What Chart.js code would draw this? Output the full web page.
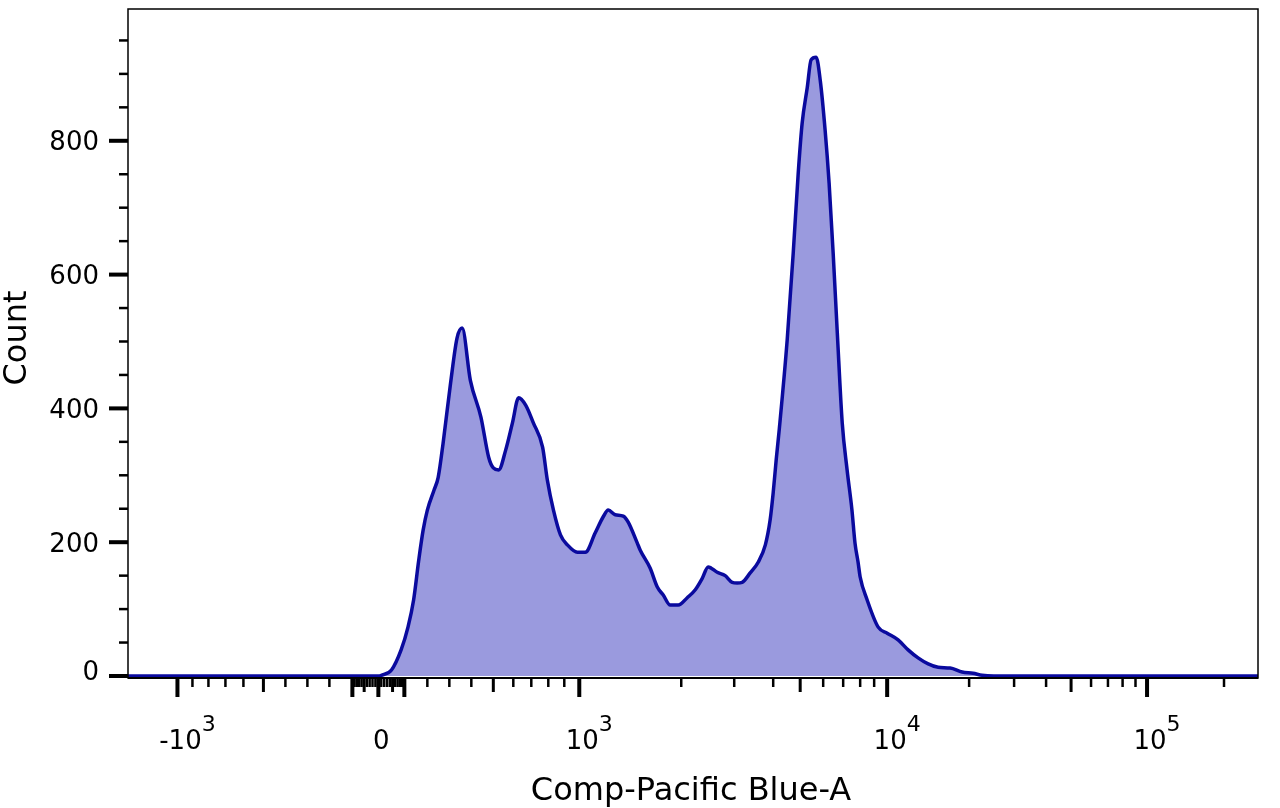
<!DOCTYPE html>
<html>
<head>
<meta charset="utf-8">
<script src="https://cdn.jsdelivr.net/npm/chart.js@4/dist/chart.umd.min.js"></script>
<style>
  html, body { margin: 0; padding: 0; background: #ffffff; }
  #wrap { width: 1280px; height: 808px; position: relative; }
</style>
</head>
<body>
<div id="wrap"><canvas id="chart" width="1280" height="808"></canvas></div>
<script>
// ---------------- data ----------------
const FLUORESCENCE = [
  -1400, -1000, -500, -100, 0, 10, 46, 85, 113, 135, 157, 178, 200, 227, 245, 268, 305, 332, 355,
  395, 441, 477, 500, 525, 560, 595, 628, 667, 712, 765, 794, 831, 875, 920, 987,
  1042, 1115, 1177, 1218, 1277, 1349, 1395, 1483, 1514, 1620, 1700, 1770, 1856, 1960,
  2094, 2227, 2349, 2458, 2634, 2800, 2954, 3067, 3180, 3375, 3580, 3775, 3910, 4000,
  4100, 4204, 4490, 4720, 4920, 5080, 5290, 5450, 5675, 5860, 6090, 6280, 6480, 6690,
  6950, 7220, 7500, 7680, 7870, 8000, 8480, 9300, 10000, 10970, 11940, 12990, 14150,
  15390, 17030, 18850, 20730, 22480, 25000, 262144
];
const COUNTS = [
  0, 0, 0, 0, 0, 1, 9, 39, 73, 114, 173, 218, 248, 278, 297, 348, 438, 505, 520,
  442, 387, 327, 311, 308, 338, 378, 416, 405, 378, 342, 293, 248, 211, 196, 185,
  185, 214, 238, 248, 241, 239, 230, 199, 188, 161, 133, 121, 106, 106,
  117, 129, 146, 163, 155, 150, 140, 139, 140, 154, 170, 196, 233, 274,
  323, 368, 502, 632, 752, 827, 880, 921, 925, 891, 816, 737, 632, 513,
  378, 308, 248, 199, 170, 148, 114, 73, 64, 54, 39, 27, 18,
  13, 12, 6, 4, 1, 0, 0
];

// axis range and tick definitions
const X_MIN = -1400, X_MAX = 262144;
const Y_MIN = -3, Y_MAX = 997;
const Y_TICK_VALUES = [0, 200, 400, 600, 800];
const Y_TICK_LABELS = ['0', '200', '400', '600', '800'];
const Y_MINOR_TICKS = [50, 100, 150, 250, 300, 350, 450, 500, 550, 650, 700, 750, 850, 900, 950];

const X_LABEL_VALUES = [-1000, 0, 1000, 10000, 100000];
const X_LABEL_BASES = ['-10', '0', '10', '10', '10'];
const X_LABEL_EXPONENTS = ['3', '', '3', '4', '5'];
const X_MAJOR_TICKS = [-1000, -100, 0, 100, 1000, 10000, 100000];
const X_MEDIUM_TICKS = [-500, -50, 50, 500, 5000, 50000];
const X_MINOR_TICKS = [
  -900, -800, -700, -600, -400, -300, -200,
  -90, -80, -70, -60, -40, -30, -20, -10,
  10, 20, 30, 40, 60, 70, 80, 90,
  200, 300, 400, 600, 700, 800, 900,
  2000, 3000, 4000, 6000, 7000, 8000, 9000,
  20000, 30000, 40000, 60000, 70000, 80000, 90000,
  200000
];

// biexponential display transform (value -> display units), symmetric around 0
const X_SCALE_KNOT_VALUES  = [0, 100, 200, 300, 400, 500, 600, 700, 800, 900, 1000, 2000, 3000, 4000, 5000, 6000, 7000, 8000, 9000, 10000, 20000, 30000, 40000, 50000, 100000, 200000, 262144];
const X_SCALE_KNOT_DISPLAY = [0, 26, 49, 71, 93, 115, 135, 153, 170, 186, 201, 303, 356, 395, 422, 445, 465, 482, 496, 509, 591, 636, 668, 693, 769, 846, 880];

const X_TITLE = 'Comp-Pacific Blue-A';
const Y_TITLE = 'Count';

// ---------------- custom biexponential scale ----------------
function biexDisplay(v) {
  const s = v < 0 ? -1 : 1;
  const a = Math.abs(v);
  const u = Math.asinh(a / 100);
  const K = X_SCALE_KNOT_VALUES, D = X_SCALE_KNOT_DISPLAY;
  for (let i = 1; i < K.length; i++) {
    if (a <= K[i] || i === K.length - 1) {
      const u0 = Math.asinh(K[i - 1] / 100), u1 = Math.asinh(K[i] / 100);
      return s * (D[i - 1] + (D[i] - D[i - 1]) * (u - u0) / (u1 - u0));
    }
  }
  return 0;
}

class BiexScale extends Chart.LinearScale {
  determineDataLimits() {
    this.min = this.options.min;
    this.max = this.options.max;
  }
  buildTicks() {
    this.start = this.min;
    this.end = this.max;
    return X_MAJOR_TICKS.map(v => ({ value: v }));
  }
  getPixelForValue(value) {
    const a = biexDisplay(this.min), b = biexDisplay(this.max);
    return this.getPixelForDecimal((biexDisplay(value) - a) / (b - a));
  }
  getValueForPixel(pixel) {
    let lo = this.min, hi = this.max;
    for (let i = 0; i < 80; i++) {
      const mid = (lo + hi) / 2;
      if (this.getPixelForValue(mid) < pixel) lo = mid; else hi = mid;
    }
    return (lo + hi) / 2;
  }
}
BiexScale.id = 'biex';
BiexScale.defaults = Chart.LinearScale.defaults;
Chart.register(BiexScale);

// ---------------- axis painter (ticks, labels, frame) ----------------
const FONT = '"DejaVu Sans", "Liberation Sans", sans-serif';
const axisPainter = {
  id: 'axisPainter',
  afterDatasetsDraw(chart) {
    const { ctx, chartArea: a, scales } = chart;
    const xs = scales.x, ys = scales.y;
    ctx.save();
    ctx.strokeStyle = '#000';
    ctx.fillStyle = '#000';
    ctx.lineCap = 'butt';
    // frame
    ctx.lineWidth = 1.5;
    ctx.strokeRect(a.left, a.top, a.right - a.left, a.bottom - a.top);
    ctx.lineWidth = 2;
    ctx.beginPath(); ctx.moveTo(a.left, a.bottom); ctx.lineTo(a.right, a.bottom); ctx.stroke();

    const line = (x1, y1, x2, y2, w) => {
      ctx.lineWidth = w; ctx.beginPath(); ctx.moveTo(x1, y1); ctx.lineTo(x2, y2); ctx.stroke();
    };
    // y ticks
    Y_TICK_VALUES.forEach(v => { const p = ys.getPixelForValue(v); line(a.left - 19, p, a.left, p, 4); });
    Y_MINOR_TICKS.forEach(v => { const p = ys.getPixelForValue(v); line(a.left - 9, p, a.left, p, 2.5); });
    // x ticks
    X_MAJOR_TICKS.forEach(v => { const p = xs.getPixelForValue(v); line(p, a.bottom, p, a.bottom + 19, 4); });
    X_MEDIUM_TICKS.forEach(v => { const p = xs.getPixelForValue(v); line(p, a.bottom, p, a.bottom + 14, 3); });
    X_MINOR_TICKS.forEach(v => { const p = xs.getPixelForValue(v); line(p, a.bottom, p, a.bottom + 9, 2.5); });

    // y tick labels (kept above the x axis line)
    ctx.font = '26px ' + FONT;
    ctx.textAlign = 'right';
    ctx.textBaseline = 'alphabetic';
    Y_TICK_VALUES.forEach((v, i) => {
      const baseline = Math.min(ys.getPixelForValue(v) + 9.5, a.bottom + 2);
      ctx.fillText(Y_TICK_LABELS[i], a.left - 29, baseline);
    });

    // x tick labels with superscript exponents
    X_LABEL_VALUES.forEach((v, i) => {
      const p = xs.getPixelForValue(v) + 3;
      ctx.font = '26px ' + FONT;
      ctx.textAlign = 'center';
      const base = X_LABEL_BASES[i];
      ctx.fillText(base, p, a.bottom + 71);
      if (X_LABEL_EXPONENTS[i]) {
        const w = ctx.measureText(base).width;
        ctx.font = '22px ' + FONT;
        ctx.textAlign = 'left';
        ctx.fillText(X_LABEL_EXPONENTS[i], p + w / 2, a.bottom + 53);
      }
    });

    // axis titles
    ctx.font = '32px ' + FONT;
    ctx.textAlign = 'center';
    ctx.fillText(X_TITLE, 691, 800);
    ctx.translate(26, 338);
    ctx.rotate(-Math.PI / 2);
    ctx.fillText(Y_TITLE, 0, 0);
    ctx.restore();
  }
};

// ---------------- chart ----------------
new Chart(document.getElementById('chart'), {
  type: 'line',
  data: {
    datasets: [{
      label: 'Count',
      data: FLUORESCENCE.map((x, i) => ({ x: x, y: COUNTS[i] })),
      borderColor: '#0a0a9e',
      backgroundColor: '#9a9ade',
      borderWidth: 3.5,
      borderJoinStyle: 'round',
      fill: 'origin',
      pointRadius: 0,
      cubicInterpolationMode: 'monotone'
    }]
  },
  options: {
    responsive: false,
    animation: false,
    events: [],
    layout: { padding: { left: 128, right: 22, top: 9, bottom: 130 } },
    plugins: { legend: { display: false }, tooltip: { enabled: false } },
    scales: {
      x: { type: 'biex', min: X_MIN, max: X_MAX, display: false },
      y: { type: 'linear', min: Y_MIN, max: Y_MAX, display: false }
    }
  },
  plugins: [axisPainter]
});
</script>
</body>
</html>
